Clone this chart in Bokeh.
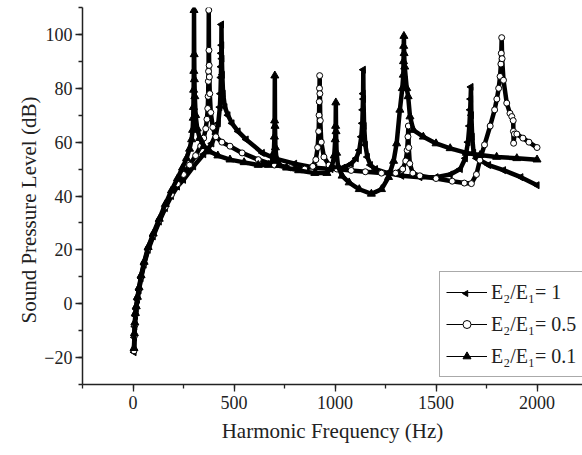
import math
from bokeh.plotting import figure
from bokeh.models import (Range1d, SingleIntervalTicker, Legend, LegendItem, Title,
                          ColumnDataSource)
from bokeh.embed import file_html
from bokeh.resources import INLINE

# ---- data (frequency in Hz, SPL in dB) ----
# E2/E1 = 1  (left-pointing triangles)
freq_r1 = [5, 7, 9, 12, 16, 22, 30, 40, 55, 75, 100, 130, 160, 190, 220, 250, 300, 350,
           390, 410, 422, 430, 433, 435, 436, 437, 438, 439, 440, 442, 446, 455, 470, 490,
           520, 560, 640, 700, 800, 900, 980, 1040, 1080, 1105, 1120, 1130, 1135, 1137,
           1139, 1140, 1141, 1144, 1150, 1160, 1175, 1200, 1260, 1330, 1420, 1500, 1570,
           1620, 1645, 1658, 1665, 1669, 1671, 1673, 1675, 1679, 1686, 1700, 1760, 1834,
           1920, 2000]
spl_r1 = [-18, -12.5, -8.5, -4.5, -2, 1.5, 5, 9.5, 14.5, 20, 25, 30.5, 35.5, 40, 43.5, 46,
          51, 55.5, 59.5, 63, 67, 73, 78, 84, 88, 93, 103.7, 96, 91, 85, 78, 73, 70, 67,
          64, 61, 56, 54, 52, 50.5, 50, 50.5, 52, 54, 57, 62, 67, 72, 78, 86.9, 76, 66,
          59, 54.5, 51.5, 50, 48.5, 47.5, 47, 47, 48, 50, 54, 60, 66, 72, 76, 80.5, 70,
          62, 56, 54, 51.5, 49.6, 47, 44]

# E2/E1 = 0.5  (open circles)
freq_r05 = [5, 7, 9, 12, 16, 22, 30, 40, 55, 75, 100, 130, 160, 190, 220, 250, 280, 310,
            335, 350, 360, 366, 370, 372, 373, 374, 375, 376, 377, 378, 380, 385, 395, 410,
            440, 480, 540, 620, 700, 780, 850, 890, 905, 914, 919, 921, 922, 923, 924, 925,
            927, 932, 945, 970, 1010, 1080, 1150, 1230, 1300, 1335, 1350, 1357, 1361, 1363,
            1365, 1370, 1385, 1420, 1500, 1580, 1640, 1675, 1700, 1717, 1740, 1768, 1790,
            1801, 1810, 1817, 1821, 1823, 1825, 1827, 1834, 1850, 1866, 1875, 1882, 1883,
            1884, 1888, 1900, 1930, 1960, 2000]
spl_r05 = [-17.5, -12, -8, -4, -1.5, 2, 5.5, 10, 15, 20.5, 25.5, 31, 36, 40.5, 44.5, 48,
           51.5, 55, 58.5, 61.5, 65, 68.5, 72.5, 77, 82.6, 86.3, 109, 94.1, 88.5, 84.2, 78,
           71, 65.5, 62, 60, 58.5, 56, 53.5, 51.5, 50.5, 50, 51, 53.5, 58, 64, 70, 75, 80,
           84.7, 78, 68, 60, 54.5, 51.5, 50, 49.5, 49, 48.5, 48.5, 50, 53, 57, 62, 66, 58,
           52, 48.5, 47.5, 46.5, 45.5, 44.8, 44.6, 48, 53.3, 59, 66, 72, 76, 80, 84.4, 89,
           93, 98.8, 91, 83, 74.5, 70.7, 69.5, 68, 64, 59.6, 63, 63, 61.5, 60, 58]

# E2/E1 = 0.1  (filled triangles)
freq_r01 = [5, 7, 9, 12, 16, 22, 30, 40, 55, 75, 100, 130, 160, 190, 220, 245, 265, 280,
            290, 295, 298, 299, 300, 301, 302, 303, 304, 306, 310, 318, 330, 350, 380, 420,
            480, 550, 620, 670, 690, 697, 700, 701, 702, 703, 705, 710, 725, 760, 820, 900,
            960, 985, 996, 1001, 1003, 1004, 1005, 1008, 1015, 1035, 1070, 1120, 1180, 1230,
            1265, 1290, 1305, 1321, 1333, 1338, 1339, 1340, 1341, 1342, 1345, 1355, 1362,
            1371, 1388, 1437, 1500, 1570, 1650, 1718, 1800, 1900, 2000]
spl_r01 = [-16.5, -11, -7, -3.5, -1, 2.5, 6, 10.5, 15.5, 21, 26, 31.5, 37, 42, 46.5, 50.5,
           54, 57.5, 61, 64.5, 69, 73, 79.4, 86.4, 109, 92.6, 83.3, 77, 70, 65, 61.5, 58.5,
           56.5, 55, 53.5, 52.5, 51.5, 51.5, 53, 56, 62, 68, 84.7, 66, 58, 54, 51.5, 50.5,
           49.5, 48.5, 48.5, 51, 55, 61, 66, 74.7, 64, 56, 51, 47.5, 45, 42.5, 40.8, 42.5,
           47, 53, 59.5, 72, 80, 85, 90, 95.7, 99.4, 93, 88, 80, 77, 69.5, 64.5, 62, 59.5,
           57.7, 56, 55.2, 54.5, 54, 53.5]

labels = ["E\u2082/E\u2081= 1", "E\u2082/E\u2081= 0.5", "E\u2082/E\u2081= 0.1"]
x_title = "Harmonic Frequency (Hz)"
y_title = "Sound Pressure Level (dB)"

FONT = "Liberation Serif"
INK = "#222222"

X0, X1, Y0, Y1 = -250, 2225, -30, 110
W, H, BL, BT, BB = 582, 455, 82, 7, 71
FW, FH = W - BL, H - BT - BB   # frame size in px

p = figure(width=W, height=H, x_range=Range1d(X0, X1), y_range=Range1d(Y0, Y1),
           output_backend="svg", toolbar_location=None,
           min_border_left=BL, min_border_right=0, min_border_top=BT, min_border_bottom=BB)
p.outline_line_color = None
p.xgrid.visible = False
p.ygrid.visible = False
p.background_fill_color = "white"
p.border_fill_color = "white"

for ax in (p.xaxis[0], p.yaxis[0]):
    ax.axis_line_width = 1.5
    ax.axis_line_color = INK
    ax.major_tick_line_color = INK
    ax.minor_tick_line_color = INK
    ax.major_tick_line_width = 1.3
    ax.minor_tick_line_width = 1.3
    ax.major_tick_in = 0
    ax.major_tick_out = 7
    ax.minor_tick_in = 0
    ax.minor_tick_out = 4
    ax.major_label_text_font = FONT
    ax.major_label_text_font_size = "18px"
    ax.major_label_text_color = INK
    ax.axis_label_text_font = FONT
    ax.axis_label_text_font_size = "21px"
    ax.axis_label_text_font_style = "normal"
    ax.axis_label_text_color = INK

p.xaxis[0].ticker = SingleIntervalTicker(interval=500, num_minor_ticks=2)
p.yaxis[0].ticker = SingleIntervalTicker(interval=20, num_minor_ticks=2)
p.xaxis[0].axis_label = x_title
p.xaxis[0].major_label_standoff = 4
p.yaxis[0].major_label_standoff = 3
p.xaxis[0].axis_label_standoff = 7

# y-axis title as a side title, starting 61 px above the frame bottom
p.add_layout(Title(text=y_title, align="left", offset=61, text_font=FONT,
                   text_font_size="21px", text_font_style="normal", text_color=INK,
                   standoff=2), "left")

BAND = 4.5
items = []

# E2/E1 = 1
src1 = ColumnDataSource(dict(f=freq_r1, spl=spl_r1, ang=[math.pi / 2] * len(freq_r1)))
p.line("f", "spl", source=src1, line_color="black", line_width=BAND)
l1 = p.line("f", "spl", source=src1, line_color="black", line_width=1.2)
p.scatter("f", "spl", source=src1, marker="triangle", angle="ang", size=7,
          fill_color="black", line_color="black")
items.append(LegendItem(label=labels[0], renderers=[l1], index=0))

# E2/E1 = 0.5
src2 = ColumnDataSource(dict(f=freq_r05, spl=spl_r05))
p.line("f", "spl", source=src2, line_color="black", line_width=BAND)
l2 = p.line("f", "spl", source=src2, line_color="black", line_width=1.2)
s2 = p.scatter("f", "spl", source=src2, marker="circle", size=6,
               fill_color="white", line_color="black", line_width=1)
items.append(LegendItem(label=labels[1], renderers=[l2, s2], index=0))

# E2/E1 = 0.1
src3 = ColumnDataSource(dict(f=freq_r01, spl=spl_r01))
p.line("f", "spl", source=src3, line_color="black", line_width=BAND)
l3 = p.line("f", "spl", source=src3, line_color="black", line_width=1.2)
s3 = p.scatter("f", "spl", source=src3, marker="triangle", size=8,
               fill_color="black", line_color="black")
items.append(LegendItem(label=labels[2], renderers=[l3, s3], index=0))

LEG_X, LEG_Y, PAD, ROW_H, GAP, GLYPH_W = 357, 7, 6, 28, 4, 41
legend = Legend(items=items, location=(LEG_X, LEG_Y))
legend.label_text_font = FONT
legend.label_text_font_size = "20px"
legend.label_text_color = INK
legend.glyph_width = GLYPH_W
legend.glyph_height = 20
legend.label_height = ROW_H
legend.label_standoff = 4
legend.spacing = GAP
legend.padding = PAD
legend.margin = 0
legend.border_line_color = "#555555"
legend.border_line_width = 1
# the area under the legend holds no data, so a transparent box looks the same
# and lets the sample marker below show through
legend.background_fill_alpha = 0
p.add_layout(legend)

# left-pointing sample marker for the first legend row
# (Bokeh legends draw markers unrotated); position derived from the legend layout
leg_h = 2 * PAD + 3 * ROW_H + 2 * GAP
mk_sx = LEG_X + PAD + GLYPH_W / 2
mk_sy = LEG_Y + leg_h - PAD - ROW_H / 2
mk_x = X0 + mk_sx / FW * (X1 - X0)
mk_y = Y0 + mk_sy / FH * (Y1 - Y0)
p.scatter([mk_x], [mk_y], marker="triangle", angle=math.pi / 2, size=6,
          fill_color="black", line_color="black")

open("out.html", "w").write(file_html(p, INLINE))
